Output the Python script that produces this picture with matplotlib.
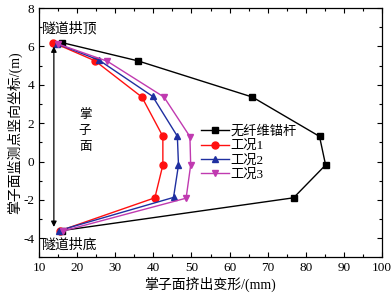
import matplotlib
matplotlib.use("Agg")
import matplotlib.pyplot as plt
from matplotlib.ticker import MultipleLocator

plt.rcParams['font.family'] = ['Liberation Serif', 'Noto Sans CJK SC']
plt.rcParams['axes.unicode_minus'] = False

y_pts = [6.2, 5.25, 3.36, 1.31, -0.18, -1.89, -3.6]
series_names = ['无纤维锚杆', '工况1', '工况2', '工况3']
x_none = [16.0, 35.9, 66.0, 83.6, 85.2, 76.8, 16.0]
x_c1 = [13.7, 24.7, 37.0, 42.5, 42.5, 40.4, 15.6]
x_c2 = [14.6, 25.8, 39.8, 46.3, 46.6, 45.3, 15.2]
x_c3 = [15.1, 27.9, 42.8, 49.6, 49.8, 48.6, 16.3]
y_c2 = [6.15, 5.28, 3.40, 1.32, -0.18, -1.87, -3.6]
y_c3 = [6.12, 5.23, 3.36, 1.30, -0.18, -1.91, -3.62]

fig = plt.figure(figsize=(3.92, 2.98), dpi=100)
ax = fig.add_axes([0.0995, 0.136, 0.875, 0.837])

ax.plot(x_none, y_pts, color='black', marker='s', ms=4.5, lw=1.0, label=series_names[0])
ax.plot(x_c1, y_pts, color='#ff1010', marker='o', ms=5, lw=1.0, label=series_names[1])
ax.plot(x_c2, y_c2, color='#1f2fa0', marker='^', ms=5, lw=1.0, label=series_names[2])
ax.plot(x_c3, y_c3, color='#c03ab0', marker='v', ms=5, lw=1.0, label=series_names[3])

ax.annotate('', xy=(13.9, 6.0), xytext=(13.9, -3.41),
            arrowprops=dict(arrowstyle='<|-|>', color='black', lw=0.9,
                            mutation_scale=8, shrinkA=0, shrinkB=0))

ax.text(18.1, 6.9, '隧道拱顶', fontsize=10, ha='center', va='center')
ax.text(18.1, -4.35, '隧道拱底', fontsize=10, ha='center', va='center')
ax.text(22.1, 1.6, '掌\n子\n面', fontsize=9, ha='center', va='center', linespacing=1.45)

ax.set_xlim(10, 100)
ax.set_ylim(-5, 8)
ax.xaxis.set_major_locator(MultipleLocator(10))
ax.xaxis.set_minor_locator(MultipleLocator(5))
ax.yaxis.set_major_locator(MultipleLocator(2))
ax.yaxis.set_minor_locator(MultipleLocator(1))
ax.tick_params(which='both', direction='in', top=True, right=True, labelsize=9.5)
ax.tick_params(which='major', length=3.5, width=0.8)
ax.tick_params(which='minor', length=2, width=0.8)
for s in ax.spines.values():
    s.set_linewidth(0.9)

ax.set_xlabel('掌子面挤出变形/(mm)', fontsize=10, labelpad=1.5)
ax.set_ylabel('掌子面监测点竖向坐标/(m)', fontsize=10, labelpad=1)

leg = ax.legend(loc='upper left', bbox_to_anchor=(0.468, 0.535), frameon=False,
                fontsize=9.5, handlelength=2.1, handletextpad=0.15,
                labelspacing=0.15, borderpad=0.1, borderaxespad=0)

fig.savefig('out.png', dpi=100)
